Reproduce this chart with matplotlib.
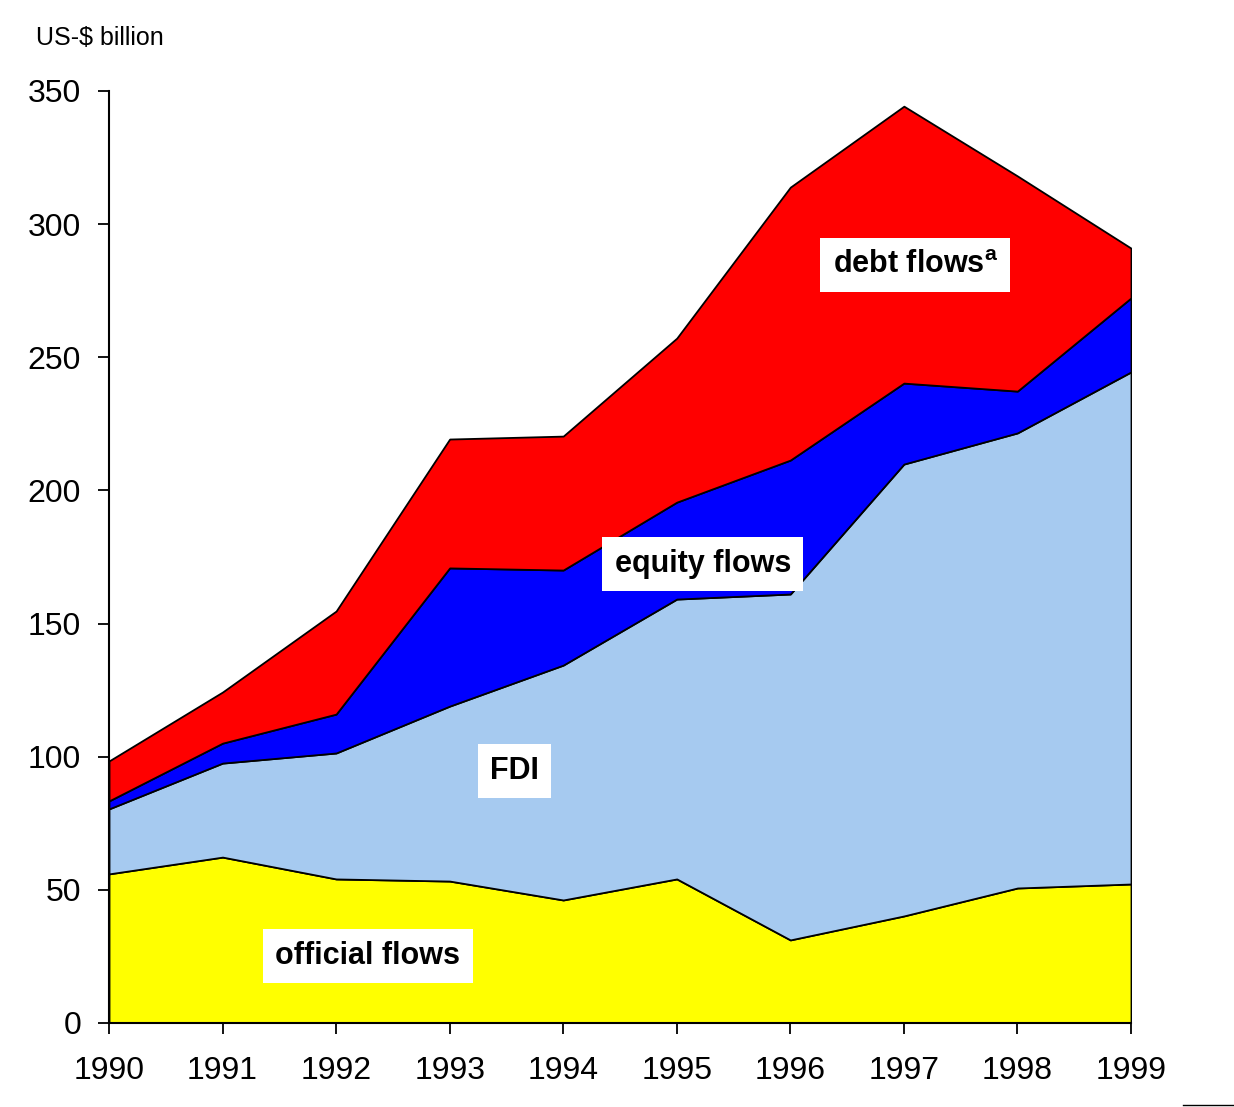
import matplotlib
matplotlib.use("Agg")
import matplotlib.pyplot as plt
from matplotlib.lines import Line2D

plt.rcParams['font.family'] = ['Liberation Sans', 'DejaVu Sans']
plt.rcParams['mathtext.fontset'] = 'custom'
plt.rcParams['mathtext.rm'] = 'Liberation Sans'
plt.rcParams['mathtext.bf'] = 'Liberation Sans:bold'

years = [1990, 1991, 1992, 1993, 1994, 1995, 1996, 1997, 1998, 1999]
official = [56.0, 62.3, 54.1, 53.3, 46.2, 54.1, 31.2, 40.2, 50.7, 52.2]
fdi = [24.4, 35.3, 47.3, 65.7, 88.2, 105.1, 129.9, 169.7, 170.9, 192.3]
equity = [3.0, 7.5, 14.6, 51.9, 35.7, 36.4, 50.3, 30.4, 15.7, 27.8]
debt = [15.0, 19.2, 38.7, 48.4, 50.3, 61.6, 102.5, 104.0, 80.8, 18.7]
colors = ['#FFFF00', '#A6CAF0', '#0000FF', '#FF0000']
yticks = [0, 50, 100, 150, 200, 250, 300, 350]

fig = plt.figure(figsize=(12.34, 11.07), dpi=100)
ax = fig.add_axes([109/1234, 1 - 1023/1107, (1131-109)/1234, (1023-91)/1107])

ax.stackplot(years, official, fdi, equity, debt, colors=colors,
             edgecolor='black', linewidth=1.3)

ax.set_xlim(1990, 1999)
ax.set_ylim(0, 350)
ax.set_xticks(years)
ax.set_yticks(yticks)
ax.tick_params(axis='both', labelsize=23, length=8, width=1.3, direction='out')
ax.tick_params(axis='x', pad=16)
ax.tick_params(axis='y', pad=12)
for s in ['top', 'right']:
    ax.spines[s].set_visible(False)
for s in ['left', 'bottom']:
    ax.spines[s].set_linewidth(1.5)

box = dict(boxstyle='square,pad=0.4', facecolor='white', edgecolor='none')
ax.text(1992.28, 25.2, 'official flows', fontsize=22, fontweight='bold',
        ha='center', va='center', bbox=box, zorder=5)
ax.text(1993.57, 94.6, 'FDI', fontsize=22, fontweight='bold',
        ha='center', va='center', bbox=box, zorder=5)
ax.text(1995.23, 172.4, 'equity flows', fontsize=22, fontweight='bold',
        ha='center', va='center', bbox=box, zorder=5)
ax.text(1997.10, 284.6, r'debt flows$^{\mathbf{a}}$', fontsize=22, fontweight='bold',
        ha='center', va='center', bbox=box, zorder=5)

fig.text(36/1234, 1 - 38/1107, 'US-$ billion', fontsize=18, ha='left', va='center')
fig.add_artist(Line2D([1183/1234, 1233/1234], [1 - 1105/1107, 1 - 1105/1107],
                      color='black', linewidth=1.0, transform=fig.transFigure))

fig.savefig('out.png', dpi=100)
